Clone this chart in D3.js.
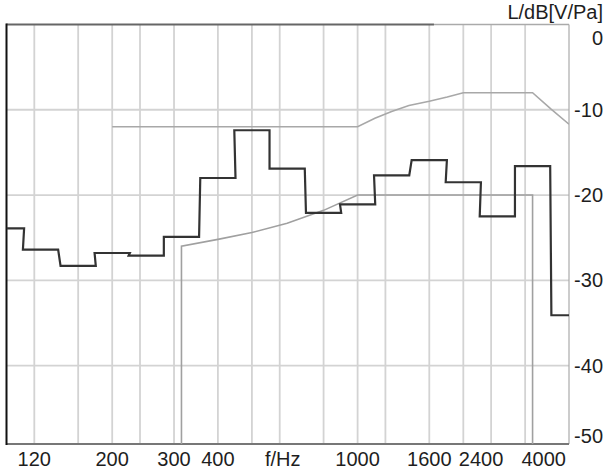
<!DOCTYPE html>
<html>
<head>
<meta charset="utf-8">
<script src="https://cdn.jsdelivr.net/npm/d3@7"></script>
<style>
  html, body { margin: 0; padding: 0; background: #fff; }
  svg { display: block; }
  text { font-family: "Liberation Sans", Arial, sans-serif; fill: #1e1e1e; }
</style>
</head>
<body>
<svg id="chart" width="608" height="473"></svg>
<script>
// 1/3-octave band levels of the microphone output
const bandCenters = [100, 125, 160, 200, 250, 315, 400, 500, 630, 800, 1000, 1250, 1600, 2000, 2500, 3150, 4000];
const bandLevels  = [-23.9, -26.4, -28.3, -26.8, -27.1, -24.9, -18.0, -12.4, -16.9, -22.1, -21.1, -17.7, -15.9, -18.5, -22.5, -16.6, -34.1];

// Upper tolerance limit
const upperFreq  = [200, 1000, 1120, 1250, 1400, 1600, 1800, 2000, 3150, 3550, 4000];
const upperLevel = [-12, -12, -11, -10.2, -9.5, -9, -8.5, -8, -8, -9.9, -11.7];

// Lower tolerance limit (null = drops to the bottom of the scale)
const lowerFreq  = [315, 315, 400, 500, 630, 800, 1000, 3150, 3150];
const lowerLevel = [null, -26, -25.2, -24.4, -23.3, -21.8, -20, -20, null];

// Axes
const gridFreqs   = [120, 160, 200, 240, 300, 400, 500, 600, 800, 1000, 1200, 1600, 2000, 2400, 3000];
const xTickLabels = [120, 200, 300, 400, 1000, 1600, 2400, 4000];
const yGridValues = [-10, -20, -30, -40];
const yTickLabels = [0, -10, -20, -30, -40, -50];
const freqDomain  = [100, 4000];
const levelDomain = [0, -49.2];

(function () {
  const svg = d3.select("#chart");
  const pLeft = 6.5, pRight = 569, pTop = 24.5, pBottom = 444;
  const fontSize = 20;

  const x = d3.scaleLog().domain(freqDomain).range([pLeft, pRight]);
  const y = d3.scaleLinear().domain(levelDomain).range([pTop, pBottom]);

  svg.append("defs").append("clipPath").attr("id", "plot")
    .append("rect").attr("x", pLeft).attr("y", pTop)
    .attr("width", pRight - pLeft).attr("height", pBottom - pTop);

  // Grid
  svg.append("g").selectAll("line").data(gridFreqs).join("line")
    .attr("x1", d => x(d)).attr("x2", d => x(d))
    .attr("y1", pTop).attr("y2", pBottom)
    .attr("stroke", "#d3d3d3").attr("stroke-width", 1.8);

  svg.append("g").selectAll("line").data(yGridValues).join("line")
    .attr("x1", pLeft).attr("x2", pRight)
    .attr("y1", d => y(d)).attr("y2", d => y(d))
    .attr("stroke", "#d3d3d3").attr("stroke-width", 1.8);

  // Frame
  svg.append("line").attr("x1", pLeft).attr("x2", x(1650)).attr("y1", pTop).attr("y2", pTop)
    .attr("stroke", "#666").attr("stroke-width", 2);
  svg.append("line").attr("x1", x(1650)).attr("x2", pRight).attr("y1", pTop).attr("y2", pTop)
    .attr("stroke", "#aaa").attr("stroke-width", 1.5);
  svg.append("line").attr("x1", pRight).attr("x2", pRight).attr("y1", pTop).attr("y2", pBottom)
    .attr("stroke", "#aaa").attr("stroke-width", 1.2);
  svg.append("line").attr("x1", pLeft).attr("x2", pRight).attr("y1", pBottom).attr("y2", pBottom)
    .attr("stroke", "#777").attr("stroke-width", 2);
  svg.append("line").attr("x1", pLeft).attr("x2", pLeft).attr("y1", pTop - 1).attr("y2", pBottom + 1)
    .attr("stroke", "#111").attr("stroke-width", 2);

  const plot = svg.append("g").attr("clip-path", "url(#plot)");
  const line = d3.line().x(d => x(d[0])).y(d => y(d[1]));

  // Tolerance limits
  plot.append("path")
    .attr("d", line(upperFreq.map((f, i) => [f, upperLevel[i]])))
    .attr("fill", "none").attr("stroke", "#a8a8a8").attr("stroke-width", 1.6);

  plot.append("path")
    .attr("d", line(lowerFreq.map((f, i) => [f, lowerLevel[i] === null ? levelDomain[1] : lowerLevel[i]])))
    .attr("fill", "none").attr("stroke", "#a0a0a0").attr("stroke-width", 1.6);

  // Band levels as steps across each 1/3-octave band
  const stepPts = [];
  bandCenters.forEach((fc, i) => {
    const lo = Math.max(fc / Math.pow(2, 1 / 6), freqDomain[0]);
    const hi = Math.min(fc * Math.pow(2, 1 / 6), freqDomain[1]);
    stepPts.push([lo, bandLevels[i]], [hi, bandLevels[i]]);
  });
  plot.append("path")
    .attr("d", line(stepPts))
    .attr("fill", "none").attr("stroke", "#333").attr("stroke-width", 2.2)
    .attr("stroke-linejoin", "miter");

  // X tick labels
  const xLabelOffset = { 2400: -10 };
  svg.append("g").selectAll("text").data(xTickLabels).join("text")
    .attr("x", d => d === freqDomain[1] ? x(d) - 3 : x(d) + (xLabelOffset[d] || 0))
    .attr("y", 466)
    .attr("text-anchor", d => d === freqDomain[1] ? "end" : "middle")
    .attr("font-size", fontSize)
    .text(d => d);

  svg.append("text")
    .attr("x", x(600) + 3).attr("y", 466)
    .attr("text-anchor", "middle").attr("font-size", fontSize)
    .text("f/Hz");

  // Y tick labels, kept inside the frame at both ends
  svg.append("g").selectAll("text").data(yTickLabels).join("text")
    .attr("x", 603)
    .attr("y", d => Math.min(Math.max(y(d), pTop + 13.5), pBottom - 8))
    .attr("dy", "0.35em")
    .attr("text-anchor", "end")
    .attr("font-size", fontSize)
    .text(d => d);

  svg.append("text")
    .attr("x", 603).attr("y", 19)
    .attr("text-anchor", "end").attr("font-size", fontSize)
    .text("L/dB[V/Pa]");
})();
</script>
</body>
</html>
